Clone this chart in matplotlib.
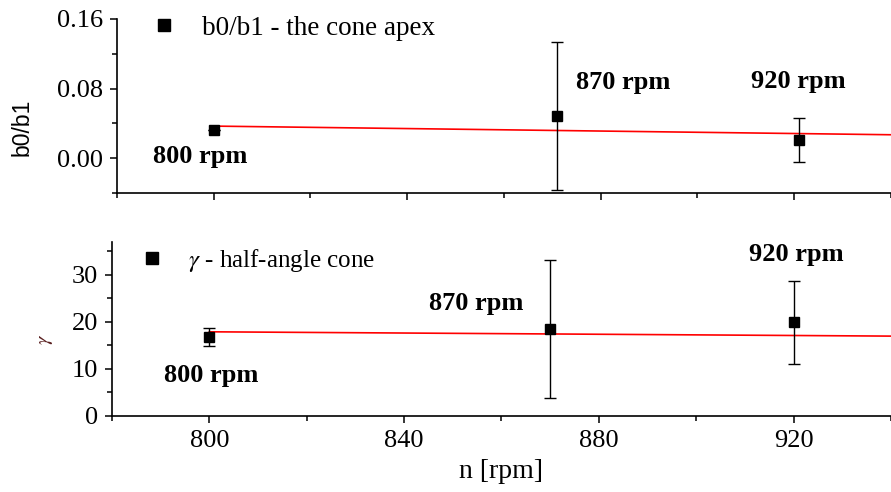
import matplotlib
matplotlib.use("Agg")
import matplotlib.pyplot as plt
from matplotlib.lines import Line2D
from matplotlib.ticker import MultipleLocator

# data
rpm_b = [800, 871, 921]
b_ratio = [0.032, 0.048, 0.021]
b_err = [0.0, 0.085, 0.025]

rpm_g = [800, 870, 920]
gamma = [16.8, 18.5, 19.9]
gamma_err = [1.95, 14.6, 8.9]

fit_x = [800, 945]
fit_b = [0.0369, 0.0266]
fit_g = [17.9, 16.95]

labels = ["800 rpm", "870 rpm", "920 rpm"]

plt.rcParams['font.family'] = ['Liberation Serif', 'DejaVu Serif']
plt.rcParams['mathtext.fontset'] = 'stix'

fig = plt.figure(figsize=(8.91, 4.92), dpi=100)
ax1 = fig.add_axes([0.1313, 0.6077, 0.8687, 0.3537])
ax2 = fig.add_axes([0.1257, 0.1545, 0.8743, 0.3537])

for ax in (ax1, ax2):
    for s in ('top', 'right'):
        ax.spines[s].set_visible(False)
    for s in ('left', 'bottom'):
        ax.spines[s].set_linewidth(1.2)
    ax.set_xlim(780, 940)
    ax.xaxis.set_major_locator(MultipleLocator(40))
    ax.xaxis.set_minor_locator(MultipleLocator(20))
    ax.tick_params(which='major', direction='out', length=5, width=1.1,
                   labelsize=19, pad=5)
    ax.tick_params(which='minor', direction='out', length=3.5, width=1.1)

# top panel
ax1.plot(fit_x, fit_b, color='red', lw=1.2, zorder=2)
ax1.errorbar(rpm_b, b_ratio, yerr=b_err, fmt='s', color='black', ms=6.5,
             elinewidth=1.0, capsize=4, capthick=1.0, zorder=3,
             clip_on=False)
ax1.set_ylim(-0.04, 0.16)
ax1.yaxis.set_major_locator(MultipleLocator(0.08))
ax1.yaxis.set_minor_locator(MultipleLocator(0.04))
ax1.yaxis.set_major_formatter(plt.FormatStrFormatter('%.2f'))
ax1.tick_params(axis='x', which='both', labelbottom=False)
ax1.set_ylabel('b0/b1', family=['Liberation Sans'], fontsize=16.5)
ax1.yaxis.set_label_coords(-0.108, 0.38)

for txt, x, y in zip(labels, [797.1, 884.6, 920.8], [0.002, 0.087, 0.088]):
    ax1.text(x, y, txt, fontsize=19, fontweight='bold', ha='center', va='center')

ax1.legend([Line2D([], [], marker='s', ls='none', color='black', ms=8)],
           ['b0/b1 - the cone apex'], frameon=False, fontsize=19.5,
           loc='upper left', bbox_to_anchor=(0.012, 1.08),
           handletextpad=0.4, borderaxespad=0)

# bottom panel
ax2.plot(fit_x, fit_g, color='red', lw=1.2, zorder=2)
ax2.errorbar(rpm_g, gamma, yerr=gamma_err, fmt='s', color='black', ms=6.5,
             elinewidth=1.0, capsize=4, capthick=1.0, zorder=3)
ax2.set_ylim(0, 37)
ax2.yaxis.set_major_locator(MultipleLocator(10))
ax2.yaxis.set_minor_locator(MultipleLocator(5))
ax2.set_ylabel(r'$\gamma$', fontsize=15, color='#5a2020')
ax2.yaxis.set_label_coords(-0.073, 0.44)
ax2.set_xlabel('n [rpm]', fontsize=20, labelpad=5)

for txt, x, y in zip(labels, [800.4, 854.7, 920.6], [8.6, 24.0, 34.3]):
    ax2.text(x, y, txt, fontsize=19, fontweight='bold', ha='center', va='center')

ax2.legend([Line2D([], [], marker='s', ls='none', color='black', ms=8)],
           [r'$\gamma$ - half-angle cone'], frameon=False, fontsize=18,
           loc='upper left', bbox_to_anchor=(0.006, 1.03),
           handletextpad=0.45, borderaxespad=0)

fig.savefig('out.png', dpi=100)
